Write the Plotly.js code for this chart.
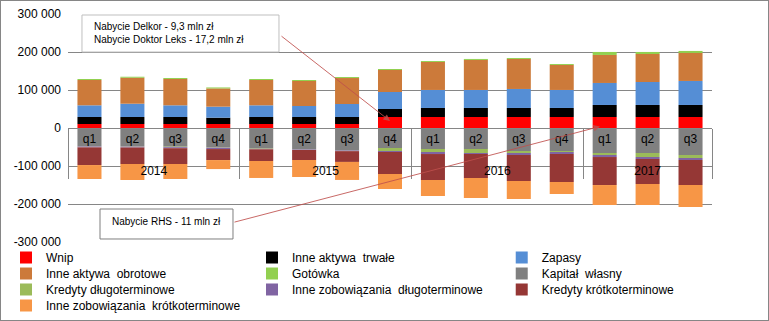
<!DOCTYPE html>
<html><head><meta charset="utf-8">
<script src="https://cdn.plot.ly/plotly-3.0.1.min.js"></script>
<style>html,body{margin:0;padding:0;background:#fff}#chart{width:769px;height:321px;box-sizing:border-box;border:1px solid #868686}</style>
</head><body><div id="chart"></div>
<script>
const years = ['2014','2014','2014','2014','2015','2015','2015','2015','2016','2016','2016','2016','2017','2017','2017'];
const quarters = ['q1','q2','q3','q4','q1','q2','q3','q4','q1','q2','q3','q4','q1','q2','q3'];
const wnip = [10500,10500,10500,10500,10500,10500,10500,29000,29000,29000,29000,29000,29000,29000,29000];
const inneAktywaTrwale = [18400,18400,18400,16600,18400,18400,18400,21000,23700,23700,23700,23700,31600,31600,31600];
const zapasy = [30800,35000,30800,29000,30800,29000,34200,44700,47400,47400,50000,47400,57900,60500,63200];
const inneAktywaObrotowe = [66600,68400,69200,48000,66600,65800,68400,57900,73700,79000,79000,65800,73700,73700,73700];
const gotowka = [2600,2600,2600,2600,2600,2600,2600,2600,2600,2600,2600,2600,7900,5300,5300];
const kapitalWlasny = [-47400,-47400,-49200,-50000,-52600,-55300,-57900,-52600,-55300,-55300,-60500,-60500,-65800,-65800,-71000];
const kredytyDlugo = [-1000,-1300,-1300,-1500,-1800,-1000,-1000,-7900,-7900,-10500,-5300,-2600,-5300,-10500,-7900];
const inneZobDlugo = [-2500,-2600,-2600,-3900,-1600,-1600,-2000,-2600,-5300,-2600,-5300,-5300,-5300,-5300,-5300];
const kredytyKrotko = [-46600,-43400,-41600,-29000,-30800,-26300,-28400,-57900,-68400,-63200,-68400,-73700,-73700,-65800,-65800];
const inneZobKrotko = [-36800,-42100,-39500,-23700,-44700,-44700,-47400,-39500,-42100,-52600,-47400,-31600,-52600,-55300,-57900];
const yTickVals = [-300000,-200000,-100000,0,100000,200000,300000];
const yTickText = ['-300 000','-200 000','-100 000','0','100 000','200 000','300 000'];
const note1 = 'Nabycie Delkor - 9,3 mln zł<br>Nabycie Doktor Leks - 17,2 mln zł';
const note2 = 'Nabycie RHS - 11 mln zł';

// year labels pushed down one line (below the quarter row, as in the reference)
const yearLabels = years.map(y => ' <br>' + y);

const series = [
  ['Wnip', wnip, '#FF0000'],
  ['Inne aktywa  trwałe', inneAktywaTrwale, '#000000'],
  ['Zapasy', zapasy, '#558ED5'],
  ['Inne aktywa  obrotowe', inneAktywaObrotowe, '#CC7A3A'],
  ['Gotówka', gotowka, '#92D050'],
  ['Kapitał  własny', kapitalWlasny, '#808080'],
  ['Kredyty długoterminowe', kredytyDlugo, '#9BBB59'],
  ['Inne zobowiązania  długoterminowe', inneZobDlugo, '#8064A2'],
  ['Kredyty krótkoterminowe', kredytyKrotko, '#953735'],
  ['Inne zobowiązania  krótkoterminowe', inneZobKrotko, '#F79646']
];

// legend grid: 3 columns, row-major (one legend box per entry)
const legendColX = [-0.0963, 0.2857, 0.6735];
const legendRowY = [-0.0044, -0.0746, -0.1447, -0.2149];

const traces = [];
const layout = {
  width:767, height:319,
  margin:{l:67, r:56, t:13, b:78, autoexpand:false},
  paper_bgcolor:'#fff', plot_bgcolor:'#fff',
  barmode:'relative', bargap:0.44,
  font:{family:'"Liberation Sans", Arial, sans-serif', size:12, color:'#000'},
  xaxis:{type:'multicategory', anchor:'free', position:0.5, showline:true, linecolor:'#868686', linewidth:1,
         ticks:'', showdividers:true, dividercolor:'#868686', dividerwidth:1, showgrid:false, tickfont:{size:12}},
  yaxis:{range:[-300000,300000], tickvals:yTickVals, ticktext:yTickText, showgrid:true, gridcolor:'#868686', gridwidth:1,
         zeroline:false, showline:false, ticks:'', ticklabelstandoff:6, tickfont:{size:12}},
  showlegend:true
};
series.forEach((s, i) => {
  const key = i === 0 ? 'legend' : 'legend' + (i + 1);
  traces.push({type:'bar', name:s[0], x:[yearLabels, quarters], y:s[1], legend:key,
               marker:{color:s[2], line:{width:0}}, hoverinfo:'skip'});
  layout[key] = {orientation:'v', x:legendColX[i % 3], y:legendRowY[Math.floor(i / 3)], xanchor:'left', yanchor:'top',
                 font:{size:12}, itemwidth:30, bgcolor:'rgba(0,0,0,0)', borderwidth:0};
});

const arrowColor = 'rgba(192,80,77,0.85)';
layout.shapes = [
  {type:'rect', xref:'paper', yref:'paper', x0:0.0217, x1:0.3276, y0:0.8333, y1:0.9956, line:{color:'#bfbfbf', width:1}, fillcolor:'#fff', layer:'above'},
  {type:'rect', xref:'paper', yref:'paper', x0:0.0497, x1:0.2562, y0:0.0132, y1:0.1447, line:{color:'#7f7f7f', width:1}, fillcolor:'#fff', layer:'above'}
];
layout.annotations = [
  {xref:'paper', yref:'paper', x:0.0373, y:0.9167, xanchor:'left', yanchor:'middle', align:'left', text:note1, showarrow:false, font:{size:10}},
  {xref:'paper', yref:'paper', x:0.0652, y:0.0921, xanchor:'left', yanchor:'middle', align:'left', text:note2, showarrow:false, font:{size:10}},
  {xref:'paper', yref:'paper', x:0.5, y:0.5307, ax:-110, ay:-86, text:' ', font:{size:1}, showarrow:true, arrowhead:2, arrowsize:1.3, arrowwidth:1, arrowcolor:arrowColor, standoff:0, startstandoff:0},
  {xref:'paper', yref:'paper', x:0.8261, y:0.5066, ax:-367, ay:96, text:' ', font:{size:1}, showarrow:true, arrowhead:2, arrowsize:1.3, arrowwidth:1, arrowcolor:arrowColor, standoff:0, startstandoff:0}
];
Plotly.newPlot('chart', traces, layout, {displayModeBar:false, staticPlot:true});
</script></body></html>
